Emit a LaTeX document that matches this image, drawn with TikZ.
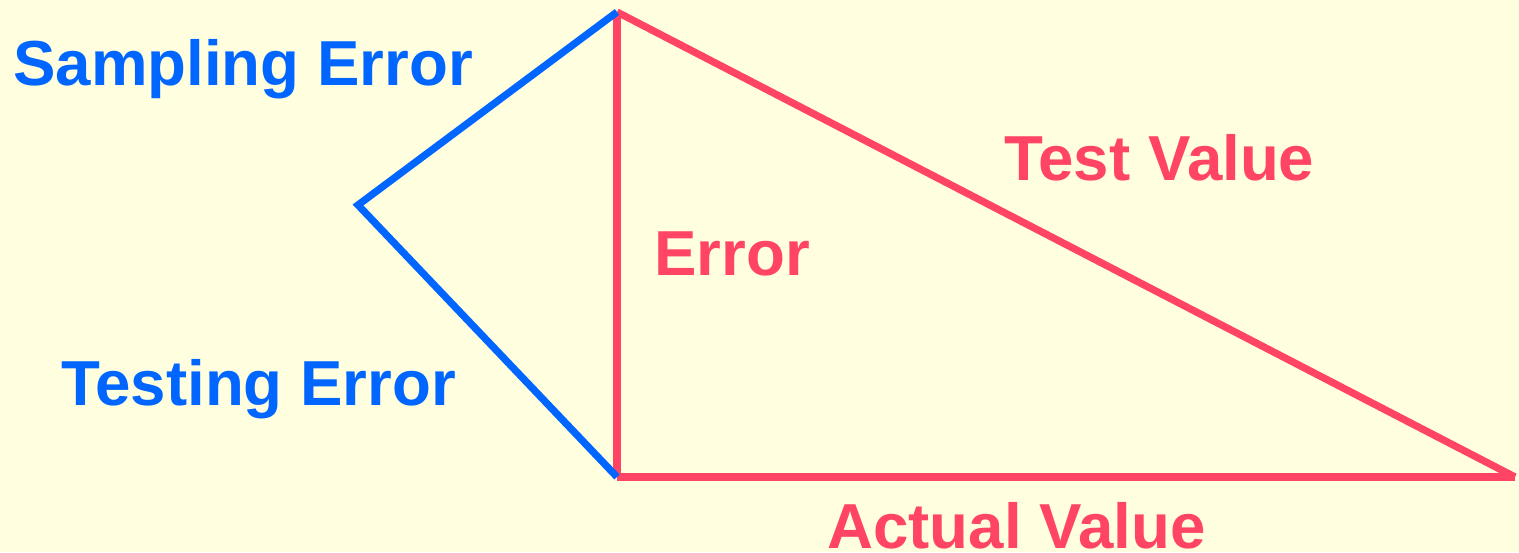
\documentclass[tikz,border=0pt]{standalone}
\usepackage{fontspec}
\setmainfont{Liberation Sans}
\usepackage{tikz}
\usetikzlibrary{positioning}
\definecolor{paleyellow}{RGB}{255,255,224}
\definecolor{errblue}{RGB}{0,102,255}
\definecolor{valred}{RGB}{255,68,102}

\begin{document}
\begin{tikzpicture}[x=0.02cm,y=-0.02cm]
\tikzstyle{edgeline}=[line width=0.145cm]
\tikzstyle{lbl}=[anchor=base west,inner sep=0pt,font=\fontsize{36.2}{40}\selectfont\bfseries]
\fill[paleyellow] (0,0) rectangle (1519,552);
\useasboundingbox (0,0) rectangle (1519,552);
\coordinate (top) at (617,12);
\coordinate (lft) at (358,205);
\coordinate (bot) at (617,477);
\coordinate (rgt) at (1515,477);
\draw[edgeline,valred] (top)--(bot); \draw[edgeline,valred] (bot)--(rgt); \draw[edgeline,valred] (rgt)--(top);
\draw[edgeline,errblue] (top)--(lft)--(bot);
\node[lbl,errblue] (se) at (13,85) {Sampling Error};
\node[lbl,errblue] (te) at (61,405) {Testing Error};
\node[lbl,valred] (tv) at (1004,180) {Test Value};
\node[lbl,valred] (er) at (654,275) {Error};
\node[lbl,valred] (av) at (827,548) {Actual Value};
\end{tikzpicture}
\end{document}
